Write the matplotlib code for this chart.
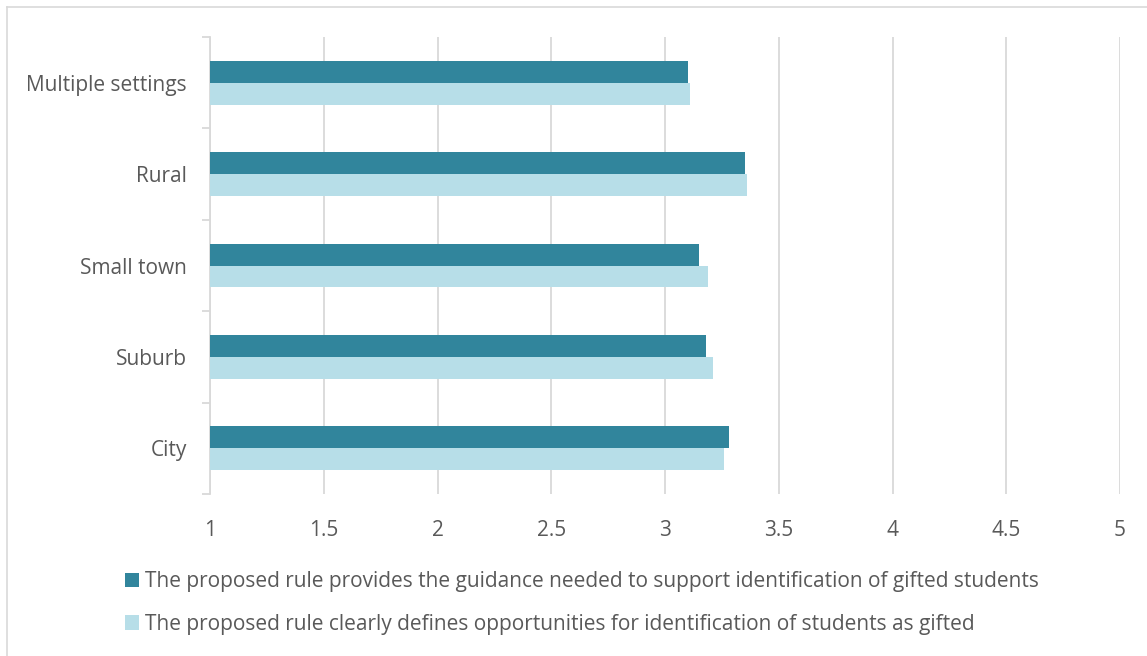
import matplotlib
matplotlib.use("Agg")
import matplotlib.pyplot as plt
from matplotlib.lines import Line2D
from matplotlib.patches import Patch
import numpy as np

plt.rcParams['font.family'] = ['Open Sans', 'DejaVu Sans']

categories = ["City", "Suburb", "Small town", "Rural", "Multiple settings"]
guidance = [3.28, 3.18, 3.15, 3.35, 3.10]
defines = [3.26, 3.21, 3.19, 3.36, 3.11]
series_names = [
    "The proposed rule provides the guidance needed to support identification of gifted students",
    "The proposed rule clearly defines opportunities for identification of students as gifted",
]
xticks = [1, 1.5, 2, 2.5, 3, 3.5, 4, 4.5, 5]
xtick_labels = ["1", "1.5", "2", "2.5", "3", "3.5", "4", "4.5", "5"]

dark = "#31859C"
light = "#B7DEE8"
text_c = "#595959"
grid_c = "#D9D9D9"
fs = 15

W, H = 1147, 656
fig = plt.figure(figsize=(W / 100, H / 100), dpi=100)
ax = fig.add_axes([210 / W, 1 - 494 / H, 910 / W, 457 / H])

y = np.arange(len(categories))
h = 0.24
base = 1.0
ax.barh(y + h / 2, np.array(guidance) - base, left=base, height=h, color=dark, zorder=3)
ax.barh(y - h / 2, np.array(defines) - base, left=base, height=h, color=light, zorder=3)

ax.set_xlim(1, 5)
ax.set_ylim(-0.5, len(categories) - 0.5)
ax.set_xticks(xticks)
ax.set_xticklabels(xtick_labels)
ax.set_yticks(y)
ax.set_yticklabels(categories)
ax.set_yticks(np.arange(-0.5, len(categories), 1.0), minor=True)

ax.xaxis.grid(True, color=grid_c, linewidth=1.3, zorder=0)
ax.set_axisbelow(True)
for s in ["top", "right", "bottom"]:
    ax.spines[s].set_visible(False)
ax.spines["left"].set_color(grid_c)
ax.spines["left"].set_linewidth(1.3)

ax.tick_params(axis="x", length=0, pad=19, labelsize=fs, labelcolor=text_c)
ax.tick_params(axis="y", which="major", length=0, pad=16.5, labelsize=fs, labelcolor=text_c)
ax.tick_params(axis="y", which="minor", length=6, width=1.3, color=grid_c)

# Legend
handles = [Patch(facecolor=dark), Patch(facecolor=light)]
leg = fig.legend(handles, series_names, loc="upper left",
                 bbox_to_anchor=(125 / W, 1 - 571 / H), frameon=False,
                 fontsize=fs, labelcolor=text_c, handlelength=0.68,
                 handleheight=0.68, handletextpad=0.27, labelspacing=1.05,
                 borderaxespad=0, borderpad=0)

# Outer frame edges
fig.add_artist(Line2D([7 / W, 7 / W], [0, 1 - 7 / H], transform=fig.transFigure,
                      color=grid_c, linewidth=1.2))
fig.add_artist(Line2D([7 / W, 1], [1 - 7 / H, 1 - 7 / H], transform=fig.transFigure,
                      color=grid_c, linewidth=1.2))

fig.savefig("out.png", dpi=100, facecolor="white")
